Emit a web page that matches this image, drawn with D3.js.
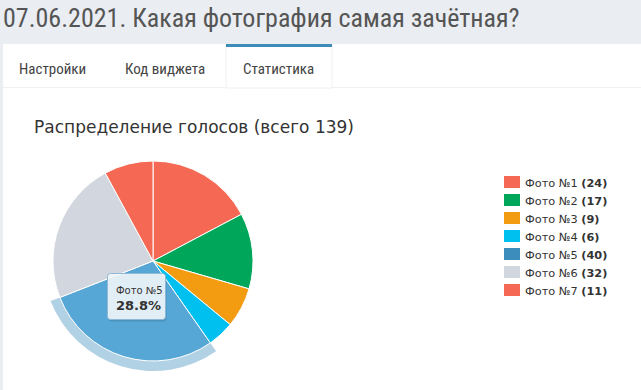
<!DOCTYPE html>
<html>
<head>
<meta charset="utf-8">
<script src="https://cdn.jsdelivr.net/npm/d3@7"></script>
<style>
  body { margin: 0; background: #eaedf2; }
  svg { display: block; }
</style>
</head>
<body>
<svg id="chart"></svg>
<script>
var W = 641, H = 390;

// data
var labels = ["Фото №1", "Фото №2", "Фото №3", "Фото №4", "Фото №5", "Фото №6", "Фото №7"];
var votes = [24, 17, 9, 6, 40, 32, 11];
var colors = ["#f56954", "#00a65a", "#f39c12", "#00c0ef", "#3c8dbc", "#d2d6de", "#f56954"];
var tabs = ["Настройки", "Код виджета", "Статистика"];
var hovered = 4;

var total = d3.sum(votes);

var svg = d3.select("#chart").attr("width", W).attr("height", H);

// brighten like highcharts does on hover
function brighten(c, a) {
  var rgb = d3.rgb(c);
  return d3.rgb(rgb.r + 255 * a, rgb.g + 255 * a, rgb.b + 255 * a);
}

// page header
svg.append("rect").attr("width", W).attr("height", H).attr("fill", "#eaedf2");
svg.append("text")
  .attr("x", 3).attr("y", 27)
  .attr("font-family", "'Liberation Sans Narrow', 'Roboto Condensed', Roboto, sans-serif")
  .attr("font-size", 26)
  .attr("fill", "#555")
  .text("07.06.2021. Какая фотография самая зачётная?");

// panel
svg.append("rect").attr("x", 3).attr("y", 44).attr("width", W - 3).attr("height", H - 44).attr("fill", "#fff");
svg.append("line").attr("x1", 3).attr("x2", W).attr("y1", 87.5).attr("y2", 87.5).attr("stroke", "#f0f0f0");

var tabX = [19, 125, 243];
// active tab
svg.append("rect").attr("x", 226).attr("y", 44).attr("width", 106).attr("height", 44).attr("fill", "#fff")
  .attr("stroke", "#f0f0f0");
svg.append("rect").attr("x", 226).attr("y", 44).attr("width", 106).attr("height", 3).attr("fill", "#3c8dbc");

svg.selectAll(".tab").data(tabs).enter().append("text")
  .attr("class", "tab")
  .attr("x", function(d, i) { return tabX[i]; })
  .attr("y", 74)
  .attr("font-family", "'Liberation Sans Narrow', 'Roboto Condensed', Roboto, sans-serif")
  .attr("font-size", 15)
  .attr("fill", "#444")
  .text(function(d) { return d; });

// chart title
svg.append("text")
  .attr("x", 34).attr("y", 133)
  .attr("font-family", "'DejaVu Sans', Verdana, sans-serif")
  .attr("font-size", 17)
  .attr("fill", "#333")
  .text("Распределение голосов (всего " + total + ")");

// pie
var cx = 153, cy = 261, r = 100;
var pie = d3.pie().sort(null).value(function(d) { return d; });
var arcs = pie(votes);
var arc = d3.arc().innerRadius(0).outerRadius(r);
var halo = d3.arc().innerRadius(r).outerRadius(r + 10);

var g = svg.append("g").attr("transform", "translate(" + cx + "," + cy + ")");

g.append("path")
  .attr("d", halo(arcs[hovered]))
  .attr("fill", colors[hovered])
  .attr("opacity", 0.4);

g.selectAll(".slice").data(arcs).enter().append("path")
  .attr("class", "slice")
  .attr("d", arc)
  .attr("fill", function(d, i) { return i === hovered ? brighten(colors[i], 0.1) : colors[i]; })
  .attr("stroke", "#fff")
  .attr("stroke-width", 1)
  .attr("stroke-linejoin", "round");

// tooltip
var tip = svg.append("g").attr("transform", "translate(107,273)");
tip.append("rect").attr("x", 1.5).attr("y", 1.5).attr("width", 58).attr("height", 47).attr("rx", 3)
  .attr("fill", "rgba(0,0,0,0.12)");
tip.append("rect").attr("x", 0.5).attr("y", 0.5).attr("width", 58).attr("height", 46).attr("rx", 3)
  .attr("fill", "rgba(247,250,253,0.88)").attr("stroke", "#8fb8d4");
tip.append("text").attr("x", 9).attr("y", 21)
  .attr("font-family", "'DejaVu Sans', Verdana, sans-serif").attr("font-size", 10).attr("fill", "#333")
  .text(labels[hovered]);
tip.append("text").attr("x", 9).attr("y", 37)
  .attr("font-family", "'DejaVu Sans', Verdana, sans-serif").attr("font-size", 13).attr("font-weight", "bold").attr("fill", "#333")
  .text(d3.format(".1f")(votes[hovered] / total * 100) + "%");

// legend
var legend = svg.selectAll(".legend").data(labels).enter().append("g")
  .attr("class", "legend")
  .attr("transform", function(d, i) { return "translate(504," + (176 + i * 18) + ")"; });
legend.append("rect").attr("width", 16).attr("height", 12)
  .attr("fill", function(d, i) { return colors[i]; });
var lt = legend.append("text").attr("x", 21).attr("y", 10.5)
  .attr("font-family", "'DejaVu Sans', Verdana, sans-serif").attr("font-size", 11.3).attr("fill", "#333");
lt.append("tspan").text(function(d) { return d + " "; });
lt.append("tspan").attr("font-weight", "bold").text(function(d, i) { return "(" + votes[i] + ")"; });
</script>
</body>
</html>
